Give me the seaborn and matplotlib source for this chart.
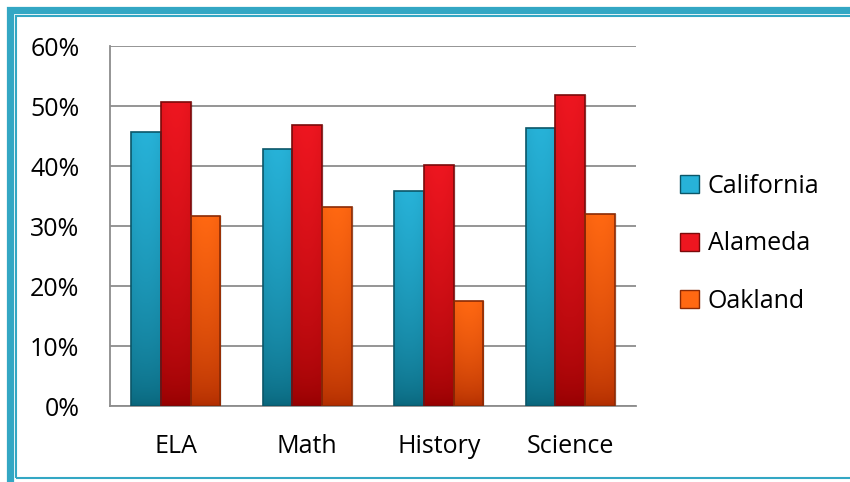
import matplotlib
matplotlib.use("Agg")
import matplotlib.pyplot as plt
import matplotlib.patches as mpatches
from matplotlib.colors import LinearSegmentedColormap
import numpy as np
import pandas as pd
import seaborn as sns

subjects = ["ELA", "Math", "History", "Science"]
regions = ["California", "Alameda", "Oakland"]
california = [45.7, 42.8, 35.8, 46.3]
alameda = [50.6, 46.8, 40.2, 51.8]
oakland = [31.7, 33.2, 17.5, 32.0]

# top / bottom colours of the gradient fill per series
top_colors = ["#27b2d8", "#ee1620", "#ff6812"]
bottom_colors = ["#086378", "#920000", "#ad2a00"]
edge_colors = ["#0b5668", "#7a0a0a", "#8a2a05"]
teal = "#33a7c4"

df = pd.DataFrame({
    "Subject": subjects * 3,
    "Region": [r for r in regions for _ in subjects],
    "Score": california + alameda + oakland,
})

sns.set_style("white")
plt.rcParams["font.family"] = ["Open Sans", "DejaVu Sans"]
plt.rcParams["text.color"] = "black"
plt.rcParams["xtick.color"] = "black"
plt.rcParams["ytick.color"] = "black"

W, H = 850, 482
fig = plt.figure(figsize=(W / 100, H / 100), dpi=100)
fig.patch.set_facecolor("white")

ax = fig.add_axes([110 / W, 1 - 406 / H, 526 / W, 360 / H])
sns.barplot(data=df, x="Subject", y="Score", hue="Region", hue_order=regions,
            palette=top_colors, width=0.68, ax=ax, legend=False,
            linewidth=1.2, edgecolor="none", zorder=3)

ax.set_ylim(0, 60)
ax.set_xlim(-0.5, 3.5)
ax.set_yticks(range(0, 61, 10))
ax.set_yticklabels([f"{v}%" for v in range(0, 61, 10)], fontsize=18)
ax.set_xticks(range(len(subjects)))
ax.set_xticklabels(subjects, fontsize=18)
ax.tick_params(axis="y", pad=22, length=0)
ax.tick_params(axis="x", pad=20, length=0)
ax.set_xlabel("")
ax.set_ylabel("")
ax.yaxis.grid(True, color="#8c8c8c", linewidth=1.3, zorder=0)
ax.set_axisbelow(True)
for side in ["top", "right"]:
    ax.spines[side].set_visible(False)
ax.spines["left"].set_color("#8c8c8c")
ax.spines["bottom"].set_color("#8c8c8c")
ax.spines["left"].set_linewidth(1.3)
ax.spines["bottom"].set_linewidth(1.3)

# gradient fill for each bar, clipped to the bar shape
for i, cont in enumerate(ax.containers):
    cmap = LinearSegmentedColormap.from_list(f"g{i}", [bottom_colors[i], top_colors[i]])
    for bar in cont:
        x0, y0 = bar.get_x(), bar.get_y()
        w, h = bar.get_width(), bar.get_height()
        grad = np.linspace(0, 1, 256).reshape(-1, 1) ** 0.55
        shade = 1 - 0.1 * np.abs(np.linspace(-1, 1, 32)).reshape(1, -1) ** 2
        img = grad * shade
        im = ax.imshow(img, cmap=cmap, aspect="auto", origin="lower",
                       extent=[x0, x0 + w, y0, y0 + h], zorder=3, vmin=0, vmax=1)
        im.set_clip_path(bar)
        bar.set_facecolor("none")
        bar.set_edgecolor(edge_colors[i])
        bar.set_zorder(4)
        # soft shadow to the right
        ax.add_patch(mpatches.Rectangle((x0 + 0.015, y0), w, h, facecolor="#000000",
                                        alpha=0.08, edgecolor="none", zorder=2))
ax.set_xlim(-0.5, 3.5)
ax.set_ylim(0, 60)

handles = [mpatches.Patch(facecolor=top_colors[i], edgecolor=edge_colors[i], label=regions[i])
           for i in range(3)]
fig.legend(handles=handles, loc="center left", bbox_to_anchor=(680 / W, 1 - 244 / H),
           frameon=False, fontsize=18, labelspacing=1.3, handlelength=0.75,
           handleheight=0.75, handletextpad=0.35, borderpad=0, borderaxespad=0)

# double teal border
fig.patches.append(mpatches.Rectangle((9.5 / W, -0.05), 1.1, 1 - 9.5 / H + 0.05,
                                      transform=fig.transFigure, fill=False,
                                      edgecolor=teal, linewidth=5.2, zorder=10))
fig.patches.append(mpatches.Rectangle((16 / W, 1 - 478 / H), 1.1, (478 - 16) / H,
                                      transform=fig.transFigure, fill=False,
                                      edgecolor=teal, linewidth=1.5, zorder=10))

fig.savefig("out.png", dpi=100)
